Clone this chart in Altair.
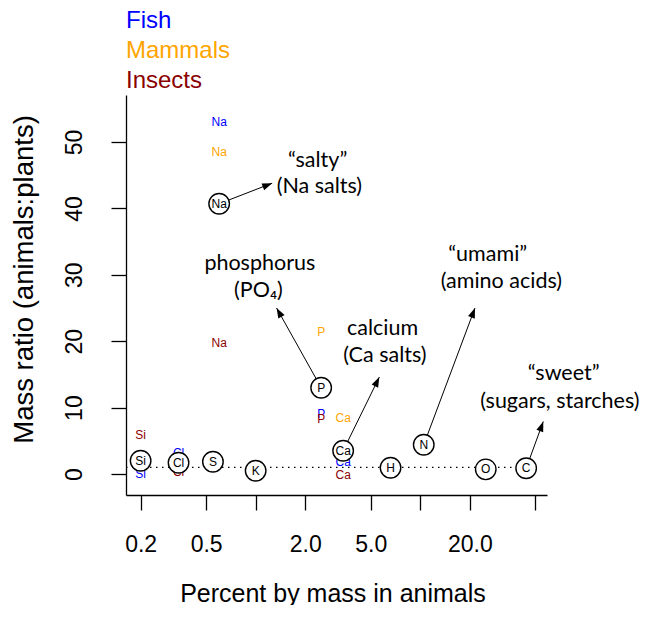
import math
import altair as alt
import pandas as pd

# ---------------- data ----------------
# element averages (black circled labels)
elements = ["Si", "Cl", "S", "K", "Ca", "H", "N", "O", "C", "P", "Na"]
pct_animals = [0.2, 0.34, 0.55, 1.0, 3.4, 6.6, 10.5, 25.0, 44.0, 2.5, 0.6]
ratio_avg = [2.0, 1.7, 1.85, 0.5, 3.5, 0.95, 4.4, 0.7, 0.86, 13.0, 40.7]

# group specific ratios (coloured labels)
groups = ["Fish", "Mammals", "Insects"]
group_colors = ["#0000FF", "#FFA500", "#8B0000"]
fish_el = ["Na", "Si", "Cl", "P", "Ca"]
fish_ratio = [53.0, 0.0, 3.2, 9.1, 1.8]
mammal_el = ["Na", "P", "Ca"]
mammal_ratio = [48.5, 21.4, 8.4]
insect_el = ["Na", "Si", "Cl", "P", "Ca"]
insect_ratio = [19.8, 5.9, 0.35, 8.3, -0.15]

# annotations (text lines in data coordinates)
note_text = ["\u201csalty\u201d", "(Na salts)", "phosphorus", "(PO\u2084)", "calcium",
             "(Ca salts)", "\u201cumami\u201d", "(amino acids)", "\u201csweet\u201d",
             "(sugars, starches)"]
note_x = [2.38, 2.44, 1.06, 1.04, 5.9, 6.1, 25.7, 31.1, 74.4, 70.5]
note_y = [46.3, 42.3, 30.8, 26.7, 20.9, 16.9, 32.1, 28.0, 14.2, 10.0]

# arrows from element circles to annotation
arrow_from = ["Na", "P", "Ca", "N", "C"]
arrow_tip_x = [1.26, 1.34, 5.64, 21.5, 55.9]
arrow_tip_y = [43.8, 25.0, 14.6, 25.0, 7.9]

# axis ticks
x_tick_values = [0.2, 0.5, 1, 2, 5, 10, 20, 50]
x_tick_labels = ["0.2", "0.5", "", "2.0", "5.0", "", "20.0", ""]
y_tick_values = [0, 10, 20, 30, 40, 50]
reference_ratio = 1.0

# ---------------- layout ----------------
W, H = 421, 400
X_DOMAIN = [0.163, 58.9]
Y_DOMAIN = [-3.16, 57.08]
FONT = "Liberation Sans"
NOTE_FONT = "Lato"


def px(x):
    lo, hi = math.log10(X_DOMAIN[0]), math.log10(X_DOMAIN[1])
    return W * (math.log10(x) - lo) / (hi - lo)


def py(y):
    return H * (Y_DOMAIN[1] - y) / (Y_DOMAIN[1] - Y_DOMAIN[0])


pos = dict(zip(elements, zip(pct_animals, ratio_avg)))
el_df = pd.DataFrame({"el": elements, "pct": pct_animals, "ratio": ratio_avg})

rows = []
for g, els, vals in [("Fish", fish_el, fish_ratio),
                     ("Mammals", mammal_el, mammal_ratio),
                     ("Insects", insect_el, insect_ratio)]:
    for e, v in zip(els, vals):
        rows.append({"group": g, "el": e, "pct": pos[e][0], "ratio": v, "order": groups.index(g)})
grp_df = pd.DataFrame(rows)

arr_rows = []
for e, tx, ty in zip(arrow_from, arrow_tip_x, arrow_tip_y):
    sx, sy = pos[e]
    dx = px(tx) - px(sx)
    dy = py(ty) - py(sy)
    ang = math.degrees(math.atan2(dx, -dy)) % 360
    arr_rows.append({"x0": sx, "y0": sy, "x1": tx, "y1": ty, "ang": ang})
arr_df = pd.DataFrame(arr_rows)

note_df = pd.DataFrame({"t": note_text, "x": note_x, "y": note_y})
line_df = pd.DataFrame({"x0": [X_DOMAIN[0]], "x1": [pos["C"][0]], "y": [reference_ratio]})

xs = alt.Scale(type="log", domain=X_DOMAIN, nice=False, zero=False)
ys = alt.Scale(domain=Y_DOMAIN, nice=False, zero=False)

label_expr = ""
for v, l in zip(x_tick_values, x_tick_labels):
    label_expr += f"datum.value == {v} ? '{l}' : "
label_expr += "''"

x_axis = alt.Axis(values=x_tick_values, labelExpr=label_expr, title="Percent by mass in animals",
                  labelFontSize=23, labelFont=FONT, tickSize=15, labelPadding=23,
                  labelOverlap=False, labelFlush=False, grid=False,
                  titleFontSize=25, titleFont=FONT, titleFontWeight="normal",
                  titleX=206.5, titleY=106, titleAlign="center", titleBaseline="alphabetic")
y_axis = alt.Axis(values=y_tick_values, title="Mass ratio (animals:plants)",
                  labelFontSize=23, labelFont=FONT, tickSize=15, labelPadding=30,
                  labelAngle=270, labelAlign="center", labelBaseline="alphabetic",
                  labelOverlap=False, labelFlush=False, grid=False,
                  titleFontSize=27.5, titleFont=FONT, titleFontWeight="normal",
                  titleAngle=270, titleX=-102, titleY=184, titleAlign="center",
                  titleBaseline="middle")


def X(field):
    return alt.X(field, scale=xs, axis=x_axis)


def Y(field):
    return alt.Y(field, scale=ys, axis=y_axis)


# reference dotted line at ratio 1
ref_line = alt.Chart(line_df).mark_rule(color="black", strokeWidth=1.4, strokeDash=[1.5, 4.5]).encode(
    x=X("x0:Q"),
    x2=alt.X2("x1:Q"),
    y=Y("y:Q"),
)

group_text = alt.Chart(grp_df).mark_text(fontSize=12, font=FONT, baseline="middle", align="center").encode(
    x=X("pct:Q"),
    y=Y("ratio:Q"),
    text="el:N",
    color=alt.Color("group:N", scale=alt.Scale(domain=groups, range=group_colors), legend=None),
    order="order:Q",
)

arrow_lines = alt.Chart(arr_df).mark_rule(color="black", strokeWidth=1).encode(
    x=X("x0:Q"),
    y=Y("y0:Q"),
    x2="x1:Q",
    y2="y1:Q",
)

arrow_heads = alt.Chart(arr_df).mark_point(
    shape="M0,0L-0.36,1L0.36,1Z", filled=True, fill="black", strokeWidth=0, size=400, opacity=1
).encode(
    x=X("x1:Q"),
    y=Y("y1:Q"),
    angle=alt.Angle("ang:Q", scale=None),
)

circles = alt.Chart(el_df).mark_point(
    shape="circle", filled=True, fill="white", stroke="black", strokeWidth=1.4, size=420, opacity=1
).encode(
    x=X("pct:Q"),
    y=Y("ratio:Q"),
)

circle_text = alt.Chart(el_df).mark_text(fontSize=12, font=FONT, baseline="middle", align="center",
                                         color="black").encode(
    x=X("pct:Q"),
    y=Y("ratio:Q"),
    text="el:N",
)

notes = alt.Chart(note_df).mark_text(fontSize=21.5, font=NOTE_FONT, baseline="alphabetic", align="center",
                                     color="black").encode(
    x=X("x:Q"),
    y=Y("y:Q"),
    text="t:N",
)

legend_layers = []
for i, (g, c) in enumerate(zip(groups, group_colors)):
    legend_layers.append(
        alt.Chart(pd.DataFrame({"t": [g]})).mark_text(
            align="left", baseline="alphabetic", fontSize=24, font=FONT, color=c
        ).encode(x=alt.value(0), y=alt.value(-67 + 29.8 * i), text="t:N")
    )

chart = alt.layer(ref_line, group_text, arrow_lines, circles, circle_text, arrow_heads, notes,
                  *legend_layers).properties(
    width=W, height=H,
    autosize=alt.AutoSizeParams(type="none"),
    padding={"left": 118, "top": 87, "right": 94, "bottom": 110},
).configure_view(stroke=None).configure_axis(
    domainColor="black", tickColor="black", labelColor="black", titleColor="black",
    domainWidth=1.3, tickWidth=1.3,
)

chart.save("out.html", embed_options={"renderer": "svg", "actions": False})
